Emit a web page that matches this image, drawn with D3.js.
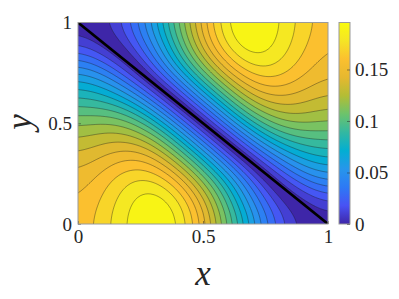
<!DOCTYPE html>
<html>
<head>
<meta charset="utf-8">
<script src="https://cdn.jsdelivr.net/npm/d3@7"></script>
<style>
    body { margin: 0; background: #fff; }
    svg { display: block; }
    text { font-family: "Liberation Serif", serif; fill: #262626; }
    .tick text { font-size: 19px; }
    .axis-label { font-style: italic; font-size: 35px; }
</style>
</head>
<body>
<div id="chart"></div>
<script>
const xValues = [0, 0.1, 0.2, 0.3, 0.4, 0.5, 0.6, 0.7, 0.8, 0.9, 1];
const yValues = [0, 0.1, 0.2, 0.3, 0.4, 0.5, 0.6, 0.7, 0.8, 0.9, 1];

// first row is y = 0
const zRows = [
    [.160, .176, .192, .204, .196, .158, .112, .068, .027, .006, .000],
    [.158, .172, .190, .203, .190, .150, .098, .050, .015, .000, .020],
    [.153, .167, .182, .191, .168, .125, .080, .033, .000, .034, .049],
    [.145, .156, .168, .164, .132, .088, .042, .000, .042, .068, .076],
    [.132, .140, .144, .135, .090, .046, .000, .046, .080, .092, .097],
    [.117, .124, .120, .090, .047, .000, .047, .090, .120, .124, .117],
    [.097, .092, .080, .046, .000, .046, .090, .135, .144, .140, .132],
    [.076, .068, .042, .000, .042, .088, .132, .164, .168, .156, .145],
    [.049, .034, .000, .033, .080, .125, .168, .191, .182, .167, .153],
    [.020, .000, .015, .050, .098, .150, .190, .203, .190, .172, .158],
    [.000, .006, .027, .068, .112, .158, .196, .204, .192, .176, .160]
];

const levels = [.01, .02, .03, .04, .05, .06, .07, .08, .09, .10, .11, .12, .13, .14, .15, .16, .17, .18, .19];
const axisTicks = [0, 0.5, 1];
const colorTicks = [0, 0.05, 0.1, 0.15];
const colorMax = 0.1956;
const parula = ["#3e26a8", "#4852f4", "#2d79f5", "#2796eb", "#03aed2", "#33b8a1", "#6cc36c", "#b3bd35", "#e6b82f", "#fbc02f", "#f5e525", "#f9fb0e"];

const width = 399, height = 299;
const plot = { left: 78, right: 328, top: 22.5, bottom: 224 };
const bar = { left: 339, right: 350 };

const xScale = d3.scaleLinear().domain([0, 1]).range([plot.left, plot.right]);
const yScale = d3.scaleLinear().domain([0, 1]).range([plot.bottom, plot.top]);
const cbScale = d3.scaleLinear().domain([0, colorMax]).range([plot.bottom, plot.top]);
const color = d3.scaleLinear()
    .domain(parula.map((c, i) => i / (parula.length - 1)))
    .range(parula)
    .interpolate(d3.interpolateRgb);

// the surface is a crease along x + y = 1, so it is refined with a sign
// across the crease and folded back afterwards, this keeps contours smooth
const signedRows = zRows.map((row, j) => row.map((v, i) => i + j < 10 ? v : -v));

function catmull(p0, p1, p2, p3, t) {
    return 0.5 * (2 * p1 + (p2 - p0) * t + (2 * p0 - 5 * p1 + 4 * p2 - p3) * t * t + (3 * p1 - p0 - 3 * p2 + p3) * t * t * t);
}

const factor = 10;
const last = xValues.length - 1;
const n = last * factor + 1;

function sampleLine(line, u) {
    const i = Math.min(Math.floor(u), last - 1);
    const at = k => k < 0 ? 2 * line[0] - line[1] : k > last ? 2 * line[last] - line[last - 1] : line[k];
    return catmull(at(i - 1), at(i), at(i + 1), at(i + 2), u - i);
}

const fine = new Float64Array(n * n);
for (let a = 0; a < n; a++) {
    const rowsAt = signedRows.map(row => sampleLine(row, a / factor));
    for (let b = 0; b < n; b++) {
        fine[b * n + a] = sampleLine(rowsAt, b / factor);
    }
}
// hand read values are a bit noisy, this takes the wobble out of the lines
d3.blur2({ data: fine, width: n }, 6);
const folded = Array.from(fine, Math.abs);

const contours = d3.contours().size([n, n]).thresholds(levels)(folded);

const path = d3.geoPath(d3.geoTransform({
    point(cx, cy) {
        this.stream.point(xScale((cx - 0.5) / (n - 1)), yScale((cy - 0.5) / (n - 1)));
    }
}));

const svg = d3.select("#chart")
    .append("svg")
    .attr("width", width)
    .attr("height", height);

const defs = svg.append("defs");
defs.append("clipPath")
    .attr("id", "plot-clip")
    .append("rect")
    .attr("x", plot.left)
    .attr("y", plot.top)
    .attr("width", plot.right - plot.left)
    .attr("height", plot.bottom - plot.top);

const gradient = defs.append("linearGradient")
    .attr("id", "parula")
    .attr("x1", 0).attr("x2", 0)
    .attr("y1", 1).attr("y2", 0);
parula.forEach((c, i) => {
    gradient.append("stop")
        .attr("offset", i / (parula.length - 1))
        .attr("stop-color", c);
});

const field = svg.append("g").attr("clip-path", "url(#plot-clip)");

field.append("rect")
    .attr("x", plot.left)
    .attr("y", plot.top)
    .attr("width", plot.right - plot.left)
    .attr("height", plot.bottom - plot.top)
    .attr("fill", color(0));

field.selectAll(".band")
    .data(contours)
    .enter()
    .append("path")
    .attr("class", "band")
    .attr("d", path)
    .attr("fill", d => color(d.value / colorMax))
    .attr("stroke", "#1a1a1a")
    .attr("stroke-opacity", 0.75)
    .attr("stroke-width", 0.5);

field.append("line")
    .attr("x1", xScale(0))
    .attr("y1", yScale(1))
    .attr("x2", xScale(1))
    .attr("y2", yScale(0))
    .attr("stroke", "#000")
    .attr("stroke-width", 2.6);

function styleAxis(g) {
    g.select(".domain").remove();
    g.selectAll("line").attr("stroke", "#262626").attr("stroke-width", 0.5);
}

svg.append("g")
    .attr("transform", `translate(0,${plot.bottom})`)
    .call(d3.axisBottom(xScale).tickValues(axisTicks).tickFormat(d3.format("~g")).tickSizeInner(-3).tickSizeOuter(0).tickPadding(6))
    .call(styleAxis);

svg.append("g")
    .attr("transform", `translate(${plot.left},0)`)
    .call(d3.axisLeft(yScale).tickValues(axisTicks).tickFormat(d3.format("~g")).tickSizeInner(-3).tickSizeOuter(0).tickPadding(6))
    .call(styleAxis);

svg.append("rect")
    .attr("x", plot.left)
    .attr("y", plot.top)
    .attr("width", plot.right - plot.left)
    .attr("height", plot.bottom - plot.top)
    .attr("fill", "none")
    .attr("stroke", "#9a9a9a")
    .attr("stroke-width", 1);

svg.append("rect")
    .attr("x", bar.left)
    .attr("y", plot.top)
    .attr("width", bar.right - bar.left)
    .attr("height", plot.bottom - plot.top)
    .attr("fill", "url(#parula)")
    .attr("stroke", "#9a9a9a")
    .attr("stroke-width", 1);

svg.append("g")
    .attr("transform", `translate(${bar.right},0)`)
    .call(d3.axisRight(cbScale).tickValues(colorTicks).tickFormat(d3.format("~g")).tickSizeInner(-3).tickSizeOuter(0).tickPadding(5))
    .call(styleAxis);

svg.append("text")
    .attr("class", "axis-label")
    .attr("x", 203)
    .attr("y", 285)
    .attr("text-anchor", "middle")
    .text("x");

svg.append("text")
    .attr("class", "axis-label")
    .attr("transform", "translate(31,122) rotate(-90)")
    .attr("text-anchor", "middle")
    .text("y");
</script>
</body>
</html>
